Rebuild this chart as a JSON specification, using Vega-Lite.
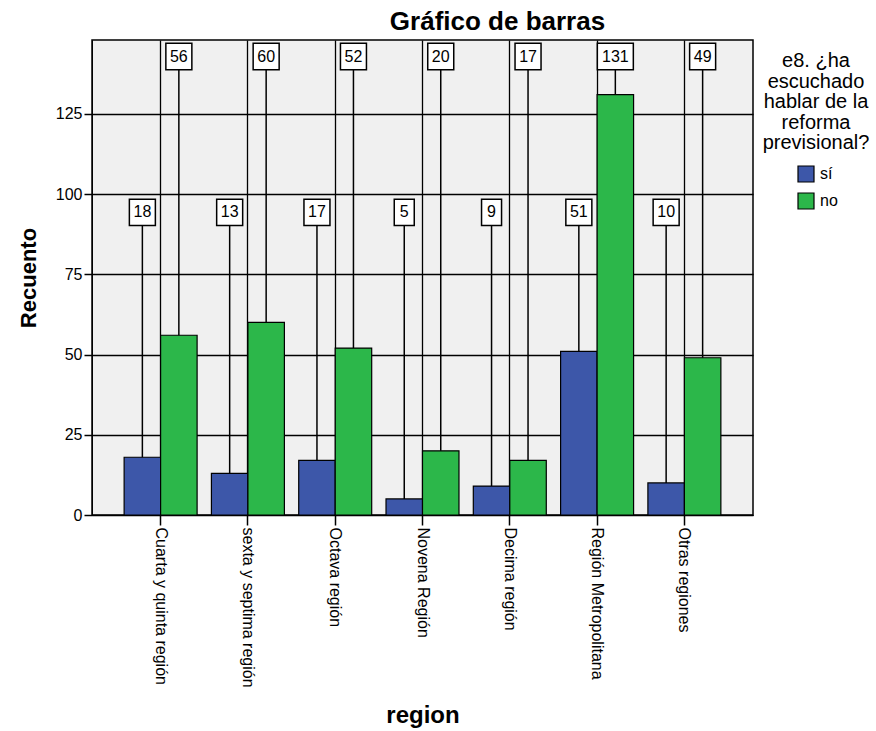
{
  "$schema": "https://vega.github.io/schema/vega-lite/v6.json",
  "autosize": "none",
  "width": 661,
  "height": 475,
  "padding": {"left": 92, "top": 40, "right": 123, "bottom": 216},
  "background": "white",
  "title": {"text": "Gráfico de barras", "font": "Liberation Sans", "fontSize": 26, "fontWeight": "bold", "color": "black", "offset": 5, "dx": 75},
  "config": {
    "view": {"fill": "#f0f0f0", "stroke": "black", "strokeWidth": 1.5},
    "font": "Liberation Sans",
    "axis": {"gridColor": "black", "gridOpacity": 1, "gridWidth": 1.3, "domainColor": "black", "tickColor": "black", "tickWidth": 1.5, "labelColor": "black", "titleColor": "black", "labelFont": "Liberation Sans", "titleFont": "Liberation Sans"}
  },
  "data": {"values": [
    {"region": "Cuarta y quinta región", "respuesta": "sí", "count": 18},
    {"region": "Cuarta y quinta región", "respuesta": "no", "count": 56},
    {"region": "sexta y septima región", "respuesta": "sí", "count": 13},
    {"region": "sexta y septima región", "respuesta": "no", "count": 60},
    {"region": "Octava región", "respuesta": "sí", "count": 17},
    {"region": "Octava región", "respuesta": "no", "count": 52},
    {"region": "Novena Región", "respuesta": "sí", "count": 5},
    {"region": "Novena Región", "respuesta": "no", "count": 20},
    {"region": "Decima región", "respuesta": "sí", "count": 9},
    {"region": "Decima región", "respuesta": "no", "count": 17},
    {"region": "Región Metropolitana", "respuesta": "sí", "count": 51},
    {"region": "Región Metropolitana", "respuesta": "no", "count": 131},
    {"region": "Otras regiones", "respuesta": "sí", "count": 10},
    {"region": "Otras regiones", "respuesta": "no", "count": 49}
  ]},
  "encoding": {
    "x": {"field": "region", "type": "nominal", "sort": null,
      "scale": {"paddingInner": 0.164, "paddingOuter": 0.368},
      "axis": {"title": "region", "titleFontSize": 24, "titleFontWeight": "bold", "titlePadding": 16, "labelAngle": 90, "labelAlign": "left", "labelBaseline": "middle", "labelFontSize": 16, "tickSize": 10, "grid": true, "labelPadding": 2, "domain": true, "labelLimit": 300}},
    "xOffset": {"field": "respuesta", "type": "nominal", "sort": ["sí", "no"]}
  },
  "layer": [
    {
      "mark": {"type": "bar", "stroke": "black", "strokeWidth": 1.2},
      "encoding": {
        "y": {"field": "count", "type": "quantitative", "scale": {"domain": [0, 148], "nice": false},
          "axis": {"title": "Recuento", "titleFontSize": 22, "titleFontWeight": "bold", "titlePadding": 15, "values": [0, 25, 50, 75, 100, 125], "labelFontSize": 16, "tickSize": 8, "grid": true}},
        "color": {"field": "respuesta", "type": "nominal", "sort": ["sí", "no"],
          "scale": {"domain": ["sí", "no"], "range": ["#3d57a9", "#2cb74a"]},
          "legend": {"orient": "none", "legendX": 671, "legendY": 11, "padding": 0,
            "title": ["e8. ¿ha", "escuchado", "hablar de la", "reforma", "previsional?"],
            "titleFont": "Liberation Sans", "titleFontSize": 20, "titleFontWeight": "normal", "titleColor": "black", "titleLineHeight": 20.5,
            "titleAlign": "center", "titleAnchor": "middle", "titlePadding": 12,
            "symbolType": "square", "symbolSize": 256, "symbolStrokeColor": "black", "symbolStrokeWidth": 1.2, "symbolOpacity": 1, "symbolOffset": 2,
            "labelFont": "Liberation Sans", "labelFontSize": 16, "labelColor": "black", "labelOffset": 5, "rowPadding": 5}}
      }
    },
    {
      "transform": [{"filter": "datum.respuesta == 'sí'"}],
      "mark": {"type": "rule", "color": "black", "strokeWidth": 1.5},
      "encoding": {"y": {"field": "count", "type": "quantitative"}, "y2": {"datum": 90.2}}
    },
    {
      "transform": [{"filter": "datum.respuesta == 'no'"}],
      "mark": {"type": "rule", "color": "black", "strokeWidth": 1.5},
      "encoding": {"y": {"field": "count", "type": "quantitative"}, "y2": {"datum": 138.7}}
    },
    {
      "transform": [{"filter": "datum.respuesta == 'sí' && datum.count < 10"}],
      "mark": {"type": "bar", "fill": "white", "stroke": "black", "strokeWidth": 1.5, "width": 20},
      "encoding": {"y": {"datum": 90.2}, "y2": {"datum": 98.4}}
    },
    {
      "transform": [{"filter": "datum.respuesta == 'sí' && datum.count >= 10"}],
      "mark": {"type": "bar", "fill": "white", "stroke": "black", "strokeWidth": 1.5, "width": 26},
      "encoding": {"y": {"datum": 90.2}, "y2": {"datum": 98.4}}
    },
    {
      "transform": [{"filter": "datum.respuesta == 'no' && datum.count < 100"}],
      "mark": {"type": "bar", "fill": "white", "stroke": "black", "strokeWidth": 1.5, "width": 26},
      "encoding": {"y": {"datum": 138.7}, "y2": {"datum": 147}}
    },
    {
      "transform": [{"filter": "datum.respuesta == 'no' && datum.count >= 100"}],
      "mark": {"type": "bar", "fill": "white", "stroke": "black", "strokeWidth": 1.5, "width": 36},
      "encoding": {"y": {"datum": 138.7}, "y2": {"datum": 147}}
    },
    {
      "transform": [{"filter": "datum.respuesta == 'sí'"}],
      "mark": {"type": "text", "font": "Liberation Sans", "fontSize": 16, "color": "black", "baseline": "middle"},
      "encoding": {"y": {"datum": 94.3}, "text": {"field": "count", "type": "quantitative"}}
    },
    {
      "transform": [{"filter": "datum.respuesta == 'no'"}],
      "mark": {"type": "text", "font": "Liberation Sans", "fontSize": 16, "color": "black", "baseline": "middle"},
      "encoding": {"y": {"datum": 142.85}, "text": {"field": "count", "type": "quantitative"}}
    }
  ]
}
